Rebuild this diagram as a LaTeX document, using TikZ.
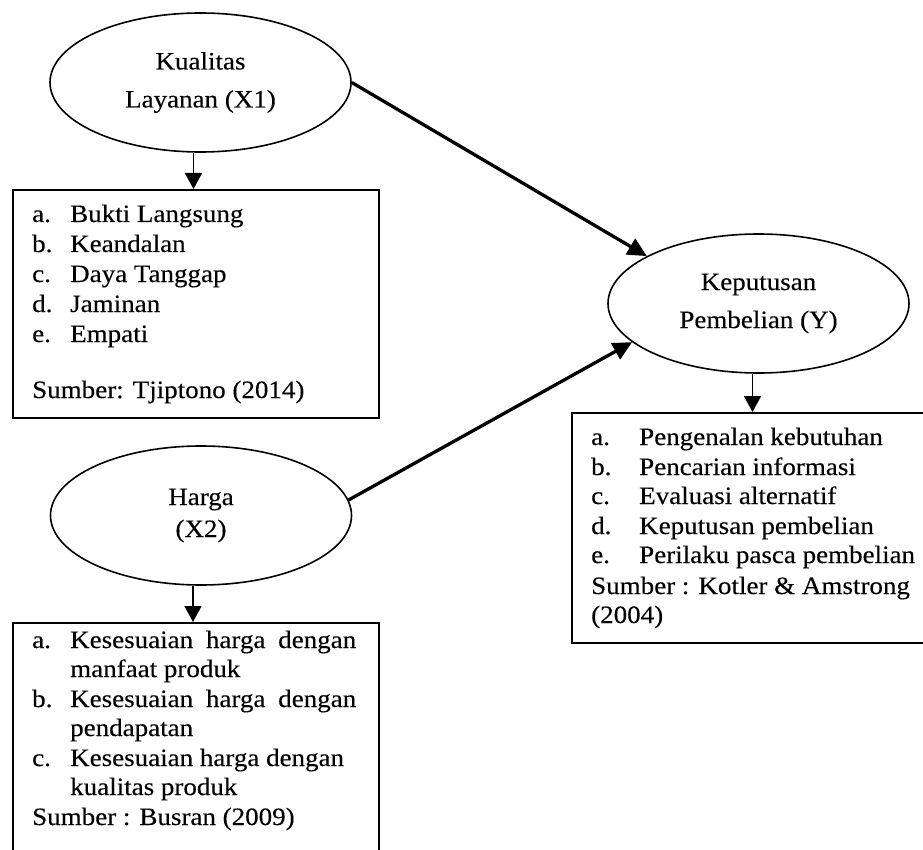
\documentclass[tikz,border=0pt]{standalone}
\usepackage{fontspec}
\setmainfont[FakeStretch=1.08,FakeBold=0.25]{Liberation Serif}
\usetikzlibrary{shapes.geometric,arrows.meta}
\begin{document}
\begin{tikzpicture}[x=1pt,y=-1pt,
  elli/.style={ellipse,draw,line width=1.6pt,minimum width=301pt,minimum height=139pt,align=center,inner sep=0pt},
  boxn/.style={draw,line width=2pt,anchor=north west,inner sep=0pt},
  txt/.style={anchor=base west,inner sep=0pt,font=\fontsize{25}{29}\selectfont},
  varrow/.style={line width=1.7pt,-{Triangle[length=16pt,width=17pt]}},
  darrow/.style={line width=3.3pt,-{Triangle[length=19pt,width=18pt]}}]
\useasboundingbox (0,0) rectangle (923,850);
\clip (0,0) rectangle (923,850);

% ellipses
\node[elli,font=\fontsize{25}{38}\selectfont] (x1) at (200.5,82.5) {Kualitas\\Layanan (X1)};
\node[elli,font=\fontsize{25}{38}\selectfont] (y) at (758.5,303.5) {Keputusan\\Pembelian (Y)};
\node[elli,font=\fontsize{25}{32}\selectfont] (x2) at (201,515.5) {Harga\\(X2)};

% boxes
\node[boxn,minimum width=366pt,minimum height=228pt] (b1) at (12,189) {};
\node[boxn,minimum width=366pt,minimum height=260pt] (b2) at (12,622) {};
\node[boxn,minimum width=380pt,minimum height=230pt] (b3) at (571,412) {};

% box 1 text
\node[txt] (b1la) at (32,222) {a.};
\node[txt] (b1ta) at (70,222) {Bukti Langsung};
\node[txt] (b1lb) at (32,252) {b.};
\node[txt] (b1tb) at (70,252) {Keandalan};
\node[txt] (b1lc) at (32,282) {c.};
\node[txt] (b1tc) at (70,282) {Daya Tanggap};
\node[txt] (b1ld) at (32,312) {d.};
\node[txt] (b1td) at (70,312) {Jaminan};
\node[txt] (b1le) at (32,342) {e.};
\node[txt] (b1te) at (70,342) {Empati};
\node[txt] (b1s) at (32,398) {Sumber: Tjiptono (2014)};

% box 2 text
\node[txt] (b2la) at (32,648) {a.};
\node[txt] (b2ta) at (70,648) {\makebox[286pt][s]{Kesesuaian harga dengan}};
\node[txt] (b2ta2) at (70,677) {manfaat produk};
\node[txt] (b2lb) at (32,707) {b.};
\node[txt] (b2tb) at (70,707) {\makebox[286pt][s]{Kesesuaian harga dengan}};
\node[txt] (b2tb2) at (70,736) {pendapatan};
\node[txt] (b2lc) at (32,766) {c.};
\node[txt] (b2tc) at (70,766) {Kesesuaian harga dengan};
\node[txt] (b2tc2) at (70,795) {kualitas produk};
\node[txt] (b2s) at (32,825) {Sumber : Busran (2009)};

% box 3 text
\node[txt] (b3la) at (591,445) {a.};
\node[txt] (b3ta) at (639,445) {Pengenalan kebutuhan};
\node[txt] (b3lb) at (591,475) {b.};
\node[txt] (b3tb) at (639,475) {Pencarian informasi};
\node[txt] (b3lc) at (591,504) {c.};
\node[txt] (b3tc) at (639,504) {Evaluasi alternatif};
\node[txt] (b3ld) at (591,534) {d.};
\node[txt] (b3td) at (639,534) {Keputusan pembelian};
\node[txt] (b3le) at (591,563) {e.};
\node[txt] (b3te) at (639,563) {Perilaku pasca pembelian};
\node[txt] (b3s) at (591,594) {Sumber : Kotler \& Amstrong};
\node[txt] (b3s2) at (591,623) {(2004)};

% arrows
\draw[varrow] ([xshift=-7pt]x1.south) -- ([xshift=-7pt]x1.south |- b1.north);
\draw[varrow] ([xshift=-8pt]x2.south) -- ([xshift=-8pt]x2.south |- b2.north);
\draw[varrow] ([xshift=-6pt]y.south) -- ([xshift=-6pt]y.south |- b3.north);
\draw[darrow] (x1.east) -- (y.157.8);
\draw[darrow] (x2.6.4) -- (y.197.2);
\end{tikzpicture}
\end{document}
